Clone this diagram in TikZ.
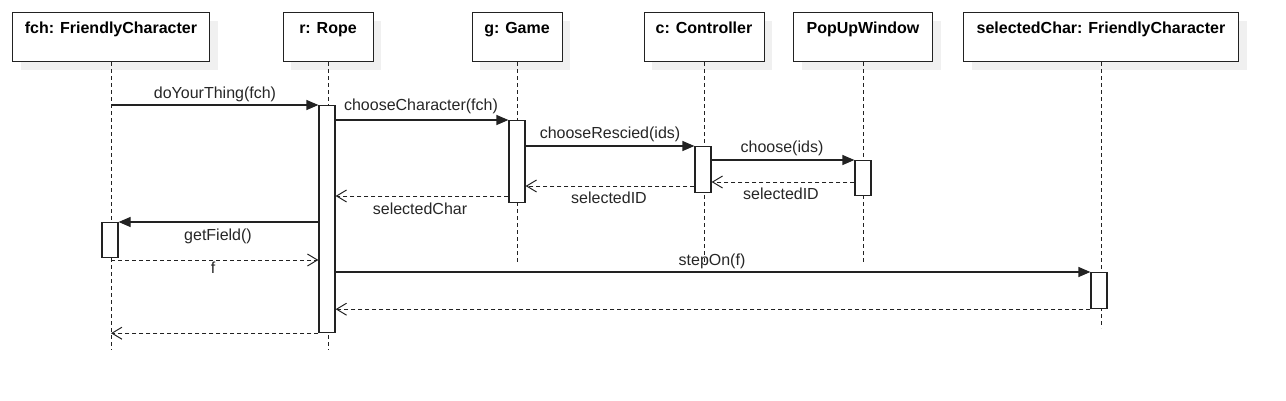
\documentclass[tikz,border=0pt]{standalone}
\usepackage{fontspec}
\setmainfont{Liberation Sans}
\usetikzlibrary{arrows.meta,shadows}
\definecolor{ln}{HTML}{222222}
\definecolor{shade}{HTML}{F0F0F0}
\begin{document}
\begin{tikzpicture}[x=1pt,y=-1pt,
  font=\fontsize{16}{19}\selectfont,
  head/.style={draw=ln, line width=1pt, fill=white, anchor=north, inner xsep=0pt, inner ysep=5pt,
    text height=16pt, text depth=23pt, font=\fontsize{16}{19}\selectfont\bfseries,
    drop shadow={fill=shade, opacity=1, shadow xshift=8pt, shadow yshift=-8pt}},
  lifeline/.style={draw=ln, line width=1pt, dash pattern=on 4pt off 3pt},
  act/.style={draw=ln, line width=1.2pt, fill=white, anchor=north, minimum width=16pt, inner sep=0pt},
  msg/.style={draw=ln, line width=1.2pt, -{Triangle[length=12pt,width=10pt]}},
  ret/.style={draw=ln, line width=1pt, dash pattern=on 4pt off 3pt, -{Straight Barb[length=10pt,width=12pt,line width=1pt]}},
  lbl/.style={anchor=base, inner sep=0pt, text=black!85}
]
\useasboundingbox (0,0) rectangle (1286,400);

% headers
\node[head, minimum width=197pt] (fch) at (111,12) {fch: FriendlyCharacter};
\node[head, minimum width=90pt] (rope) at (328,12) {r: Rope};
\node[head, minimum width=90pt] (game) at (517,12) {g: Game};
\node[head, minimum width=120pt] (ctrl) at (704,12) {c: Controller};
\node[head, minimum width=139pt] (pop) at (863,12) {PopUpWindow};
\node[head, minimum width=275pt] (sel) at (1101,12) {selectedChar: FriendlyCharacter};

% lifeline ends
\coordinate (fchE) at (111,350);
\coordinate (ropeE) at (328,350);
\coordinate (gameE) at (517,262);
\coordinate (ctrlE) at (704,262);
\coordinate (popE) at (863,262);
\coordinate (selE) at (1101,328);

\draw[lifeline] (fch.south) -- (fchE);
\draw[lifeline] (rope.south) -- (ropeE);
\draw[lifeline] (game.south) -- (gameE);
\draw[lifeline] (ctrl.south) -- (ctrlE);
\draw[lifeline] (pop.south) -- (popE);
\draw[lifeline] (sel.south) -- (selE);

% activations
\node[act, minimum height=227pt] (actR) at (327,105) {};
\node[act, minimum height=82pt] (actG) at (517,120) {};
\node[act, minimum height=46pt] (actC) at (703,146) {};
\node[act, minimum height=35pt] (actP) at (863,160) {};
\node[act, minimum height=35pt] (actF) at (110,222) {};
\node[act, minimum height=36pt] (actS) at (1099,272) {};

% messages
\draw[msg] (fch.south |- actR.north) -- (actR.north west);
\node[lbl] (l1) at (215,98) {doYourThing(fch)};

\draw[msg] (actR.east |- actG.north) -- (actG.north west);
\node[lbl] (l2) at (421,110) {chooseCharacter(fch)};

\draw[msg] (actG.east |- actC.north) -- (actC.north west);
\node[lbl] (l3) at (610,138) {chooseRescied(ids)};

\draw[msg] (actC.east |- actP.north) -- (actP.north west);
\node[lbl] (l4) at (782,152) {choose(ids)};

\draw[ret] (actP.west |- 0,182) -- (actC.east |- 0,182);
\node[lbl] (l5) at (781,199) {selectedID};

\draw[ret] (actC.west |- 0,186) -- (actG.east |- 0,186);
\node[lbl] (l6) at (609,203) {selectedID};

\draw[ret] (actG.west |- 0,196) -- (actR.east |- 0,196);
\node[lbl] (l7) at (420,214) {selectedChar};

\draw[msg] (actR.west |- actF.north) -- (actF.north east);
\node[lbl] (l8) at (218,240) {getField()};

\draw[ret] (fch.south |- 0,260) -- (actR.west |- 0,260);
\node[lbl] (l9) at (213,273) {f};

\draw[msg] (actR.east |- actS.north) -- (actS.north west);
\node[lbl] (l10) at (712,265) {stepOn(f)};

\draw[ret] (actS.south west) -- (actR.east |- actS.south);

\draw[ret] (actR.south west) -- (fch.south |- actR.south);
\end{tikzpicture}
\end{document}
